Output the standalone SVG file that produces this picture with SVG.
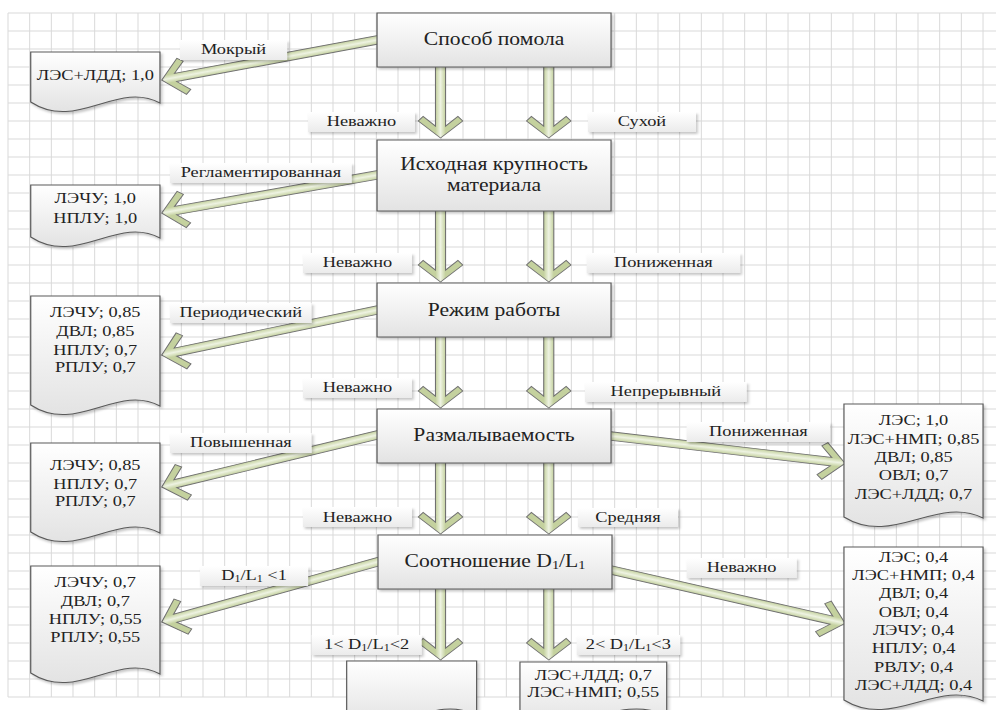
<svg xmlns="http://www.w3.org/2000/svg" width="996" height="710" viewBox="0 0 996 710">
<defs>
<linearGradient id="gBox" x1="0" y1="0" x2="0" y2="1"><stop offset="0" stop-color="#ffffff"/><stop offset="1" stop-color="#e3e3e3"/></linearGradient>
<linearGradient id="gLbl" x1="0" y1="0" x2="0" y2="1"><stop offset="0" stop-color="#ffffff"/><stop offset="1" stop-color="#ebebeb"/></linearGradient>
<linearGradient id="gArr" gradientUnits="userSpaceOnUse" x1="0" y1="-4.2" x2="0" y2="4.2"><stop offset="0" stop-color="#c4d19e"/><stop offset="0.5" stop-color="#eef3e2"/><stop offset="1" stop-color="#c4d19e"/></linearGradient>
<filter id="sh" x="-10%" y="-10%" width="130%" height="140%"><feDropShadow dx="1.5" dy="2" stdDeviation="1.2" flood-color="#000" flood-opacity="0.22"/></filter>
<path id="va" class="arr" d="M-6,-4.2H59.2L49.5,-14.5L54,-18.5L71,0L54,18.5L49.5,14.5L59.2,4.2H-6Z"/>
</defs>
<style>
.grid{fill:none;stroke:#d9d9d9;stroke-width:1}
.box{fill:url(#gBox);stroke:#5a5a5a;stroke-width:1;filter:url(#sh)}
.lbl{fill:url(#gLbl);filter:url(#sh)}
.arr{fill:url(#gArr);stroke:#707070;stroke-width:0.9}
text{font-family:"Liberation Serif","Times New Roman",serif;fill:#222222;text-anchor:middle}
.t18{font-size:18px}
.t16{font-size:15.3px}
.t15{font-size:15.3px}
</style>
<rect width="996" height="710" fill="#ffffff"/>
<g transform="scale(1.2 1)">
<path class="grid" vector-effect="non-scaling-stroke" d="M6.67 13H830M6.67 31H830M6.67 49H830M6.67 67H830M6.67 85H830M6.67 103H830M6.67 121H830M6.67 139H830M6.67 157H830M6.67 175H830M6.67 193H830M6.67 211H830M6.67 229H830M6.67 247H830M6.67 265H830M6.67 283H830M6.67 301H830M6.67 319H830M6.67 337H830M6.67 355H830M6.67 373H830M6.67 391H830M6.67 409H830M6.67 427H830M6.67 445H830M6.67 463H830M6.67 481H830M6.67 499H830M6.67 517H830M6.67 535H830M6.67 553H830M6.67 571H830M6.67 589H830M6.67 607H830M6.67 625H830M6.67 643H830M6.67 661H830M6.67 679H830M6.67 697H830
M6.67 13V697M24.72 13V697M42.78 13V697M60.83 13V697M78.89 13V697M96.95 13V697M115 13V697M133.06 13V697M151.11 13V697M169.17 13V697M187.22 13V697M205.28 13V697M223.34 13V697M241.39 13V697M259.45 13V697M277.5 13V697M295.56 13V697M313.62 13V697M331.67 13V697M349.73 13V697M367.78 13V697M385.84 13V697M403.9 13V697M421.95 13V697M440 13V697M458.06 13V697M476.12 13V697M494.17 13V697M512.23 13V697M530.28 13V697M548.34 13V697M566.4 13V697M584.45 13V697M602.51 13V697M620.56 13V697M638.62 13V697M656.68 13V697M674.73 13V697M692.79 13V697M710.84 13V697M728.9 13V697M746.96 13V697M765.01 13V697M783.07 13V697M801.12 13V697M819.18 13V697"/>

<g id="connectors">
<use href="#va" transform="translate(367.1 67) rotate(90)"/>
<use href="#va" transform="translate(457.3 67) rotate(90)"/>
<use href="#va" transform="translate(367.1 211) rotate(90)"/>
<use href="#va" transform="translate(457.3 211) rotate(90)"/>
<use href="#va" transform="translate(367.1 337) rotate(90)"/>
<use href="#va" transform="translate(457.3 337) rotate(90)"/>
<use href="#va" transform="translate(367.1 463) rotate(90)"/>
<use href="#va" transform="translate(457.3 463) rotate(90)"/>
<use href="#va" transform="translate(367.1 589) rotate(90)"/>
<use href="#va" transform="translate(457.3 589) rotate(90)"/>
<path class="arr" transform="translate(314.2 40) rotate(167.43)" d="M-6,-4.2H172L162.3,-14.5L166.8,-18.5L183.8,0L166.8,18.5L162.3,14.5L172,4.2H-6Z"/>
<path class="arr" transform="translate(314.2 175) rotate(168.04)" d="M-6,-4.2H171.6L161.9,-14.5L166.4,-18.5L183.4,0L166.4,18.5L161.9,14.5L171.6,4.2H-6Z"/>
<path class="arr" transform="translate(314.2 310) rotate(165.92)" d="M-6,-4.2H173.2L163.5,-14.5L168,-18.5L185,0L168,18.5L163.5,14.5L173.2,4.2H-6Z"/>
<path class="arr" transform="translate(314.2 435) rotate(163.84)" d="M-6,-4.2H175L165.3,-14.5L169.8,-18.5L186.8,0L169.8,18.5L165.3,14.5L175,4.2H-6Z"/>
<path class="arr" transform="translate(314.2 562) rotate(161.51)" d="M-6,-4.2H177.4L167.7,-14.5L172.2,-18.5L189.2,0L172.2,18.5L167.7,14.5L177.4,4.2H-6Z"/>
<path class="arr" transform="translate(509.2 436) rotate(7.97)" d="M-6,-4.2H185.1L175.4,-14.5L179.9,-18.5L196.9,0L179.9,18.5L175.4,14.5L185.1,4.2H-6Z"/>
<path class="arr" transform="translate(509.2 570) rotate(15.29)" d="M-6,-4.2H190.4L180.7,-14.5L185.2,-18.5L202.2,0L185.2,18.5L180.7,14.5L190.4,4.2H-6Z"/>
</g>

<g id="edge-labels">
<rect class="lbl" x="150" y="40" width="89.2" height="20"/><text class="t15" x="194.6" y="54.5">Мокрый</text>
<rect class="lbl" x="256.7" y="112" width="89.1" height="20"/><text class="t15" x="301.2" y="126.5">Неважно</text>
<rect class="lbl" x="490" y="112" width="90" height="20"/><text class="t15" x="535" y="126.5">Сухой</text>
<rect class="lbl" x="141.7" y="163" width="151.4" height="20"/><text class="t15" x="217.4" y="177.5">Регламентированная</text>
<rect class="lbl" x="252.5" y="253" width="90.8" height="20"/><text class="t15" x="297.9" y="267.5">Неважно</text>
<rect class="lbl" x="488.9" y="253" width="127.8" height="20"/><text class="t15" x="552.8" y="267.5">Пониженная</text>
<rect class="lbl" x="141.7" y="303" width="118" height="20"/><text class="t15" x="200.7" y="317.5">Периодический</text>
<rect class="lbl" x="252.5" y="378" width="90.8" height="20"/><text class="t15" x="297.9" y="392.5">Неважно</text>
<rect class="lbl" x="487.5" y="382" width="134.7" height="20"/><text class="t15" x="554.9" y="396.5">Непрерывный</text>
<rect class="lbl" x="141.7" y="433" width="118" height="20"/><text class="t15" x="200.7" y="447.5">Повышенная</text>
<rect class="lbl" x="572.2" y="422" width="119.5" height="20"/><text class="t15" x="632" y="436.5">Пониженная</text>
<rect class="lbl" x="252.5" y="507" width="90.8" height="20"/><text class="t15" x="297.9" y="521.5">Неважно</text>
<rect class="lbl" x="481.7" y="508" width="83.3" height="19"/><text class="t15" x="523.3" y="522.5">Средняя</text>
<rect class="lbl" x="166.7" y="566" width="90" height="20"/><text class="t15" x="211.7" y="580.5">D<tspan font-size="10" dy="2">1</tspan><tspan dy="-2">/L</tspan><tspan font-size="10" dy="2">1</tspan><tspan dy="-2"> &lt;1</tspan></text>
<rect class="lbl" x="572.2" y="558" width="91.7" height="20"/><text class="t15" x="618" y="572.5">Неважно</text>
<rect class="lbl" x="259.7" y="635" width="91.7" height="20"/><text class="t15" x="305.5" y="649.5">1&lt; D<tspan font-size="10" dy="2">1</tspan><tspan dy="-2">/L</tspan><tspan font-size="10" dy="2">1</tspan><tspan dy="-2">&lt;2</tspan></text>
<rect class="lbl" x="480.6" y="635" width="86.1" height="20"/><text class="t15" x="523.6" y="649.5">2&lt; D<tspan font-size="10" dy="2">1</tspan><tspan dy="-2">/L</tspan><tspan font-size="10" dy="2">1</tspan><tspan dy="-2">&lt;3</tspan></text>
</g>

<g id="n-sposob"><rect class="box" x="314.2" y="13" width="195" height="54"/><text class="t18" x="411.7" y="45.5">Способ помола</text></g>
<g id="n-krupnost"><rect class="box" x="314.2" y="140" width="195" height="71"/><text class="t18" x="411.7" y="170">Исходная крупность</text><text class="t18" x="411.7" y="191.5">материала</text></g>
<g id="n-rezhim"><rect class="box" x="314.2" y="283" width="195" height="54"/><text class="t18" x="411.7" y="316">Режим работы</text></g>
<g id="n-razmal"><rect class="box" x="314.2" y="409" width="195" height="54"/><text class="t18" x="411.7" y="441.5">Размалываемость</text></g>
<g id="n-sootn"><rect class="box" x="315" y="535" width="195" height="54"/><text class="t18" x="412.5" y="567">Соотношение D<tspan font-size="12" dy="2">1</tspan><tspan dy="-2">/L</tspan><tspan font-size="12" dy="2">1</tspan></text></g>

<g id="d-mokr"><path class="box" d="M25.6,52H133.3V103C97.6,80 63.9,132 25.6,102Z"/><text class="t16" x="79.4" y="80">ЛЭС+ЛДД; 1,0</text></g>
<g id="d-regl"><path class="box" d="M25.6,185H133.3V238C97.6,215 63.9,267 25.6,237Z"/><text class="t16" x="79.4" y="203">ЛЭЧУ; 1,0</text><text class="t16" x="79.4" y="223">НПЛУ; 1,0</text></g>
<g id="d-period"><path class="box" d="M25.6,296H133.3V406C97.6,383 63.9,435 25.6,405Z"/><text class="t16" x="79.4" y="317">ЛЭЧУ; 0,85</text><text class="t16" x="79.4" y="336">ДВЛ; 0,85</text><text class="t16" x="79.4" y="355">НПЛУ; 0,7</text><text class="t16" x="79.4" y="372.5">РПЛУ; 0,7</text></g>
<g id="d-povysh"><path class="box" d="M25.6,443H133.3V533C97.6,510 63.9,562 25.6,532Z"/><text class="t16" x="79.4" y="470.5">ЛЭЧУ; 0,85</text><text class="t16" x="79.4" y="489">НПЛУ; 0,7</text><text class="t16" x="79.4" y="506">РПЛУ; 0,7</text></g>
<g id="d-dl1"><path class="box" d="M25.6,566H133.3V674C97.6,651 63.9,703 25.6,673Z"/><text class="t16" x="79.4" y="587">ЛЭЧУ; 0,7</text><text class="t16" x="79.4" y="606">ДВЛ; 0,7</text><text class="t16" x="79.4" y="624">НПЛУ; 0,55</text><text class="t16" x="79.4" y="642">РПЛУ; 0,55</text></g>
<g id="d-ponizh"><path class="box" d="M703.3,404H819.2V518C780.5,495 744,547 703.3,517Z"/><text class="t16" x="761.3" y="425.5">ЛЭС; 1,0</text><text class="t16" x="761.3" y="444">ЛЭС+НМП; 0,85</text><text class="t16" x="761.3" y="462.5">ДВЛ; 0,85</text><text class="t16" x="761.3" y="480.5">ОВЛ; 0,7</text><text class="t16" x="761.3" y="499">ЛЭС+ЛДД; 0,7</text></g>
<g id="d-nevazh"><path class="box" d="M703.3,547H819.2V701C780.5,678 744,730 703.3,700Z"/><text class="t16" x="761.3" y="562">ЛЭС; 0,4</text><text class="t16" x="761.3" y="580">ЛЭС+НМП; 0,4</text><text class="t16" x="761.3" y="598.5">ДВЛ; 0,4</text><text class="t16" x="761.3" y="617">ОВЛ; 0,4</text><text class="t16" x="761.3" y="635">ЛЭЧУ; 0,4</text><text class="t16" x="761.3" y="653.5">НПЛУ; 0,4</text><text class="t16" x="761.3" y="672">РВЛУ; 0,4</text><text class="t16" x="761.3" y="690">ЛЭС+ЛДД; 0,4</text></g>
<g id="d-12"><path class="box" d="M288.9,661H397.2V715C358.6,692 324.5,744 288.9,714Z"/></g>
<g id="d-23"><path class="box" d="M433.3,662H555.6V715C511.8,692 470,744 433.3,714Z"/><text class="t16" x="494.4" y="680">ЛЭС+ЛДД; 0,7</text><text class="t16" x="494.4" y="697">ЛЭС+НМП; 0,55</text></g>
</g>
</svg>
